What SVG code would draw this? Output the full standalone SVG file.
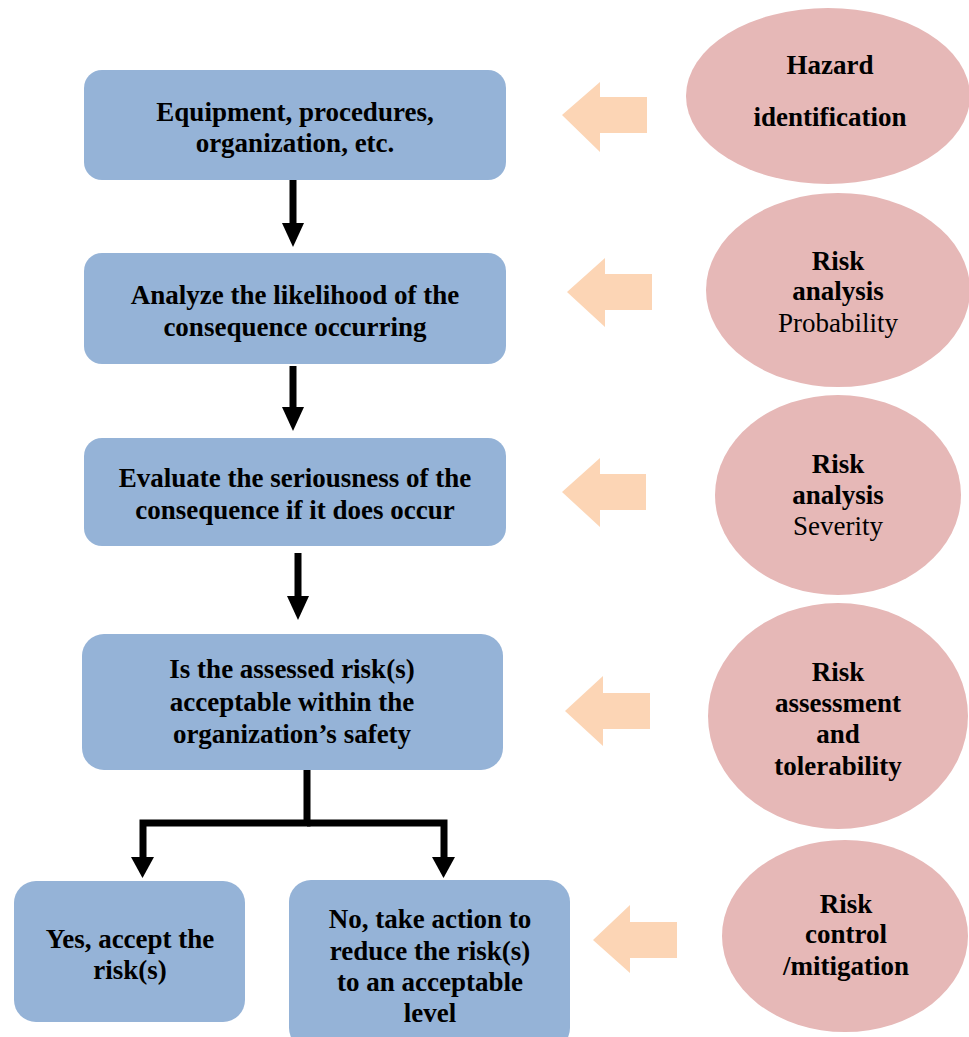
<svg xmlns="http://www.w3.org/2000/svg" width="969" height="1037" viewBox="0 0 969 1037">
<defs>
<style>
.box{fill:#95B3D7;}
.ell{fill:#E6B8B7;}
.bar{fill:#FCD5B5;}
.t{font-family:"Liberation Serif","Times New Roman",serif;font-size:27px;font-weight:bold;fill:#000;text-anchor:middle;}
.n{font-weight:normal;}
.c{fill:none;stroke:#000;stroke-width:7;}
</style>
</defs>
<rect width="969" height="1037" fill="#fff"/>
<g id="connectors">
<line class="c" x1="293" y1="180" x2="293" y2="223"/>
<path d="M282,223 L304,223 L293,247 Z"/>
<line class="c" x1="293" y1="366" x2="293" y2="407"/>
<path d="M282,407 L304,407 L293,431 Z"/>
<line class="c" x1="298" y1="553" x2="298" y2="596"/>
<path d="M287,596 L309,596 L298,620 Z"/>
<polyline class="c" points="307,770 307,823 143,823 143,857"/>
<polyline class="c" points="307,823 444,823 444,857"/>
<path d="M131,857 L154,857 L142.5,878 Z"/>
<path d="M432,857 L455,857 L443.5,878 Z"/>
</g>
<g id="n1"><rect class="box" x="84" y="70" width="422" height="110" rx="18"/>
<text class="t" x="295" y="121">Equipment, procedures,</text><text class="t" x="295" y="152">organization, etc.</text></g>
<g id="n2"><rect class="box" x="84" y="253" width="422" height="111" rx="18"/>
<text class="t" x="295" y="304">Analyze the likelihood of the</text><text class="t" x="295" y="336">consequence occurring</text></g>
<g id="n3"><rect class="box" x="84" y="438" width="422" height="108" rx="18"/>
<text class="t" x="295" y="487">Evaluate the seriousness of the</text><text class="t" x="295" y="519">consequence if it does occur</text></g>
<g id="n4"><rect class="box" x="82" y="634" width="421" height="136" rx="22"/>
<text class="t" x="292" y="678">Is the assessed risk(s)</text><text class="t" x="292" y="711">acceptable within the</text><text class="t" x="292" y="743">organization’s safety</text></g>
<g id="n5"><rect class="box" x="14" y="881" width="231" height="141" rx="22"/>
<text class="t" x="130" y="948">Yes, accept the</text><text class="t" x="130" y="979">risk(s)</text></g>
<g id="n6"><rect class="box" x="289" y="880" width="281" height="170" rx="22"/>
<text class="t" x="430" y="928">No, take action to</text><text class="t" x="430" y="960">reduce the risk(s)</text><text class="t" x="430" y="991">to an acceptable</text><text class="t" x="430" y="1022">level</text></g>
<g id="e1"><ellipse class="ell" cx="828" cy="96" rx="142" ry="88"/>
<text class="t" x="830" y="74">Hazard</text><text class="t" x="830" y="126">identification</text></g>
<g id="e2"><ellipse class="ell" cx="838" cy="290" rx="132" ry="97"/>
<text class="t" x="838" y="270">Risk</text><text class="t" x="838" y="300">analysis</text><text class="t n" x="838" y="332">Probability</text></g>
<g id="e3"><ellipse class="ell" cx="838" cy="495" rx="123" ry="100"/>
<text class="t" x="838" y="473">Risk</text><text class="t" x="838" y="504">analysis</text><text class="t n" x="838" y="535">Severity</text></g>
<g id="e4"><ellipse class="ell" cx="838" cy="716" rx="130" ry="113"/>
<text class="t" x="838" y="681">Risk</text><text class="t" x="838" y="712">assessment</text><text class="t" x="838" y="743">and</text><text class="t" x="838" y="775">tolerability</text></g>
<g id="e5"><ellipse class="ell" cx="845" cy="936" rx="123" ry="96"/>
<text class="t" x="846" y="913">Risk</text><text class="t" x="846" y="943">control</text><text class="t" x="846" y="975">/mitigation</text></g>
<g id="arrows">
<path class="bar" d="M562,115 L600,82 L600,97 L647,97 L647,133 L600,133 L600,152 Z"/>
<path class="bar" d="M567,292 L605,258 L605,274 L652,274 L652,310 L605,310 L605,327 Z"/>
<path class="bar" d="M562,492 L600,458 L600,474 L646,474 L646,510 L600,510 L600,527 Z"/>
<path class="bar" d="M565,711 L603,676 L603,693 L650,693 L650,729 L603,729 L603,746 Z"/>
<path class="bar" d="M593,940 L630,905 L630,922 L677,922 L677,958 L630,958 L630,973 Z"/>
</g>
</svg>
